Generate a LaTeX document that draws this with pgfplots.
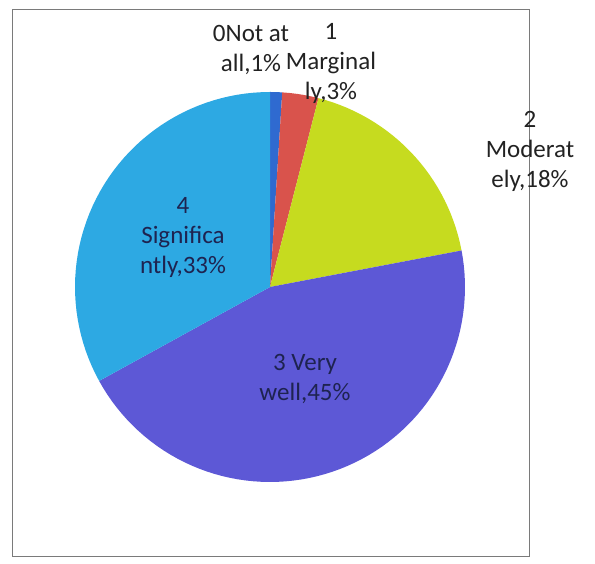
\documentclass[border=0pt]{standalone}
\usepackage{fontspec}
\setmainfont{Carlito}
\usepackage{pgfplots}
\pgfplotsset{compat=1.18}
\definecolor{sliceA}{HTML}{2F6AD0}
\definecolor{sliceB}{HTML}{D9534C}
\definecolor{sliceC}{HTML}{C6DB1F}
\definecolor{sliceD}{HTML}{5D58D6}
\definecolor{sliceE}{HTML}{2DA9E3}
\definecolor{inktext}{HTML}{1E2350}
\definecolor{outtext}{HTML}{222222}
\definecolor{framegray}{HTML}{7A7A7A}
\tikzset{
  lbl/.style={font=\fontsize{25}{30}\selectfont, align=center, inner sep=0pt}
}
\begin{document}
\begin{tikzpicture}
\begin{axis}[
  scale only axis,
  width=595pt, height=564pt,
  xmin=0, xmax=595, ymin=0, ymax=564,
  axis lines=none, ticks=none,
  clip=false,
  variable=\t
]
  \path (axis cs:0,0) rectangle (axis cs:595,564);
  % chart frame
  \draw[framegray, line width=1pt] (axis cs:12,554) rectangle (axis cs:529,7);

  % shares in percent: 1, 3, 18, 45, 33 -- clockwise from 12 o'clock
  \addplot[fill=sliceA, draw=none, samples=4,  domain={90-3.6*1}:{90}]
    ({270+195*cos(\t)},{277+195*sin(\t)}) -- (axis cs:270,277) -- cycle;
  \addplot[fill=sliceB, draw=none, samples=6,  domain={90-3.6*(1+3)}:{90-3.6*1}]
    ({270+195*cos(\t)},{277+195*sin(\t)}) -- (axis cs:270,277) -- cycle;
  \addplot[fill=sliceC, draw=none, samples=30, domain={90-3.6*(1+3+18)}:{90-3.6*(1+3)}]
    ({270+195*cos(\t)},{277+195*sin(\t)}) -- (axis cs:270,277) -- cycle;
  \addplot[fill=sliceD, draw=none, samples=70, domain={90-3.6*(1+3+18+45)}:{90-3.6*(1+3+18)}]
    ({270+195*cos(\t)},{277+195*sin(\t)}) -- (axis cs:270,277) -- cycle;
  \addplot[fill=sliceE, draw=none, samples=50, domain={90-3.6*(1+3+18+45+33)}:{90-3.6*(1+3+18+45)}]
    ({270+195*cos(\t)},{277+195*sin(\t)}) -- (axis cs:270,277) -- cycle;

  \node[lbl, text=outtext] at (axis cs:251,514) {0Not at\\all,1\%};
  \node[lbl, text=outtext] at (axis cs:331,501) {1\\Marginal\\ly,3\%};
  \node[lbl, text=outtext] at (axis cs:530,413) {2\\Moderat\\ely,18\%};
  \node[lbl, text=inktext] at (axis cs:183,327) {4\\Significa\\ntly,33\%};
  \node[lbl, text=inktext] at (axis cs:305,185) {3 Very\\well,45\%};
\end{axis}
\end{tikzpicture}
\end{document}
